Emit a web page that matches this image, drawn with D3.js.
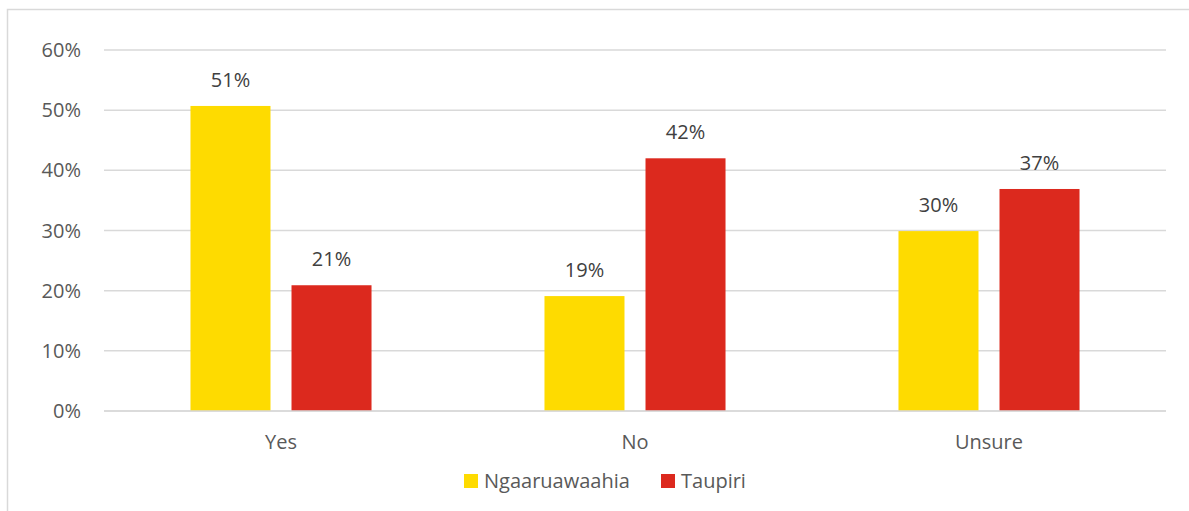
<!DOCTYPE html>
<html>
<head>
<meta charset="utf-8">
<script src="https://cdn.jsdelivr.net/npm/d3@7"></script>
<style>
  body { margin: 0; background: #fff; }
  svg { display: block; font-family: "Open Sans", "Noto Sans", sans-serif; }
</style>
</head>
<body>
<svg id="chart"></svg>
<script>
const categories = ["Yes", "No", "Unsure"];
const seriesNames = ["Ngaaruawaahia", "Taupiri"];
const ngaaruawaahia = [0.507, 0.191, 0.299];
const taupiri = [0.209, 0.42, 0.369];
const colors = ["#FEDB00", "#DC291E"];
const yTicks = [0, 0.1, 0.2, 0.3, 0.4, 0.5, 0.6];

const width = 1189;
const height = 511;
const margin = { top: 50, right: 23, bottom: 100, left: 104 };
const fontSize = "20px";

const svg = d3.select("#chart").attr("width", width).attr("height", height);

// chart frame (only top and left visible in the reference)
svg.append("path")
  .attr("d", `M7.5,${height} V9.5 H${width}`)
  .attr("fill", "none")
  .attr("stroke", "#d9d9d9")
  .attr("stroke-width", 1.5);

const x = d3.scaleBand()
  .domain(categories)
  .range([margin.left, width - margin.right]);

const y = d3.scaleLinear()
  .domain([0, 0.6])
  .range([height - margin.bottom, margin.top]);

const xInner = d3.scaleBand()
  .domain(seriesNames)
  .range([0, x.bandwidth()])
  .paddingInner(0.208)
  .paddingOuter(0.856);

// gridlines
svg.append("g")
  .selectAll("line")
  .data(yTicks)
  .join("line")
  .attr("x1", margin.left)
  .attr("x2", width - margin.right)
  .attr("y1", (d) => y(d))
  .attr("y2", (d) => y(d))
  .attr("stroke", "#d9d9d9")
  .attr("stroke-width", 1.5);

// y axis labels
const fmt = d3.format(".0%");
svg.append("g")
  .selectAll("text")
  .data(yTicks)
  .join("text")
  .attr("x", 81)
  .attr("y", (d) => y(d))
  .attr("dy", "0.35em")
  .attr("text-anchor", "end")
  .style("font-size", fontSize)
  .style("fill", "#595959")
  .text(fmt);

const rows = categories.map((c, i) => ({
  category: c,
  values: [ngaaruawaahia[i], taupiri[i]]
}));

const groups = svg.append("g")
  .selectAll("g")
  .data(rows)
  .join("g")
  .attr("transform", (d) => `translate(${x(d.category)},0)`);

groups.selectAll("rect")
  .data((d) => d.values.map((v, j) => ({ name: seriesNames[j], value: v, j })))
  .join("rect")
  .attr("x", (d) => xInner(d.name))
  .attr("width", xInner.bandwidth())
  .attr("y", (d) => y(d.value))
  .attr("height", (d) => y(0) - y(d.value))
  .attr("fill", (d) => colors[d.j]);

groups.selectAll("text.val")
  .data((d) => d.values.map((v, j) => ({ name: seriesNames[j], value: v })))
  .join("text")
  .attr("class", "val")
  .attr("x", (d) => xInner(d.name) + xInner.bandwidth() / 2)
  .attr("y", (d) => y(d.value) - 19)
  .attr("text-anchor", "middle")
  .style("font-size", fontSize)
  .style("fill", "#404040")
  .text((d) => fmt(d.value));

// redraw baseline over bars
svg.append("line")
  .attr("x1", margin.left)
  .attr("x2", width - margin.right)
  .attr("y1", y(0))
  .attr("y2", y(0))
  .attr("stroke", "#d9d9d9")
  .attr("stroke-width", 1.5);

// category labels
svg.append("g")
  .selectAll("text")
  .data(categories)
  .join("text")
  .attr("x", (d) => x(d) + x.bandwidth() / 2)
  .attr("y", y(0) + 31)
  .attr("dy", "0.35em")
  .attr("text-anchor", "middle")
  .style("font-size", fontSize)
  .style("fill", "#595959")
  .text((d) => d);

// legend
const legendX = [464, 661];
const legend = svg.append("g")
  .selectAll("g")
  .data(seriesNames)
  .join("g")
  .attr("transform", (d, i) => `translate(${legendX[i]},481)`);

legend.append("rect")
  .attr("x", 0)
  .attr("y", -7)
  .attr("width", 14)
  .attr("height", 14)
  .attr("fill", (d, i) => colors[i]);

legend.append("text")
  .attr("x", 20)
  .attr("y", 0)
  .attr("dy", "0.35em")
  .style("font-size", fontSize)
  .style("fill", "#595959")
  .text((d) => d);
</script>
</body>
</html>
